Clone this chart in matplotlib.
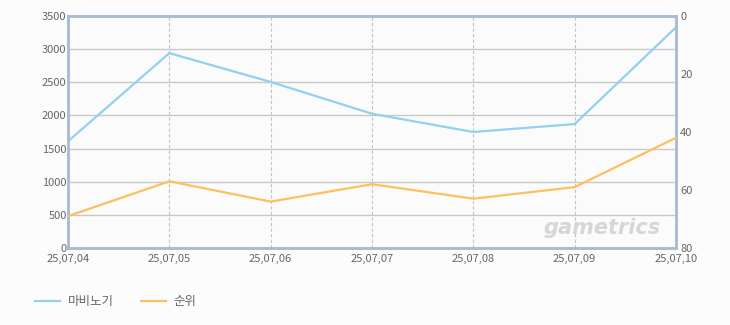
import matplotlib
matplotlib.use('Agg')
import matplotlib.pyplot as plt
import numpy as np

plt.rcParams['font.family'] = ['Noto Sans CJK KR', 'DejaVu Sans']

dates = ['25,07,04', '25,07,05', '25,07,06', '25,07,07', '25,07,08', '25,07,09', '25,07,10']
mabinogi = [1610, 2940, 2505, 2025, 1750, 1870, 3330]
rank = [69, 57, 64, 58, 63, 59, 42]

blue = '#93d0f0'
orange = '#ffbf5e'
frame = '#a9bcd2'
text_col = '#666666'

fig = plt.figure(figsize=(7.30, 3.25), dpi=100, facecolor='#fcfcfc')
ax = fig.add_axes([68 / 730, 77 / 325, 608 / 730, 232 / 325])
ax.set_facecolor('#fbfbfb')
x = np.arange(len(dates))

ax.set_xlim(0, len(dates) - 1)
ax.set_ylim(0, 3500)
ax.set_yticks(np.arange(0, 3501, 500))
ax.set_xticks(x)
ax.set_xticklabels(dates)
ax.grid(axis='y', color='#c8c8c8', linewidth=1, linestyle='-')
ax.grid(axis='x', color='#c4c4c4', linewidth=0.8, linestyle=(0, (3, 2)))
ax.set_axisbelow(True)
line1, = ax.plot(x, mabinogi, color=blue, linewidth=1.6, label='마비노기', zorder=3)

ax2 = ax.twinx()
ax2.set_ylim(80, 0)
ax2.set_yticks([0, 20, 40, 60, 80])
line2, = ax2.plot(x, rank, color=orange, linewidth=1.6, label='순위', zorder=3)

for a in (ax, ax2):
    for s in a.spines.values():
        s.set_color(frame)
        s.set_linewidth(1.8)
    a.tick_params(length=0, labelsize=8, labelcolor=text_col, pad=2)
ax.tick_params(axis='x', pad=4)
ax.tick_params(axis='y', pad=1)
ax2.tick_params(axis='y', pad=3)

ax.text(0.975, 0.085, 'gametrics', transform=ax.transAxes, ha='right', va='center',
        fontsize=15, fontweight='bold', fontstyle='italic', color='#d6d6d6',
        family='DejaVu Sans', zorder=2)

fig.legend(handles=[line1, line2], loc='lower left', bbox_to_anchor=(0.033, 0.018),
           ncol=2, frameon=False, fontsize=9, handlelength=2.0, handletextpad=0.6,
           columnspacing=2.2, labelcolor=text_col)

fig.savefig('out.png', dpi=100, facecolor=fig.get_facecolor())
